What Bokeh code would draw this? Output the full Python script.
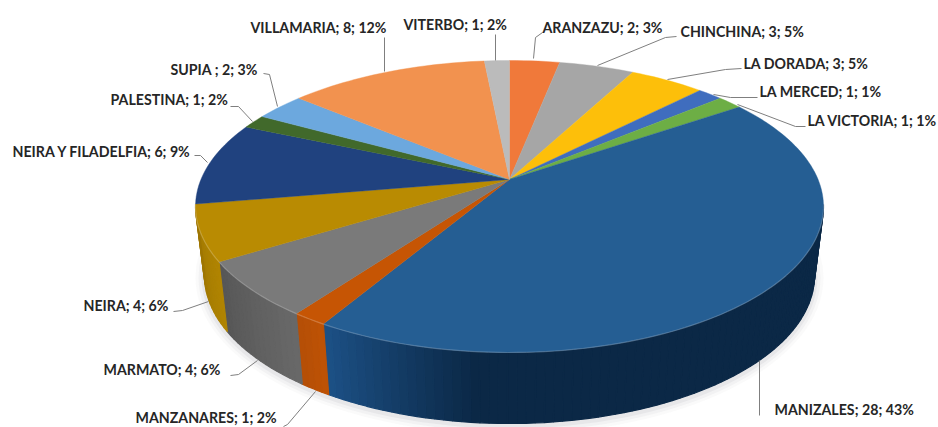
import math
from bokeh.plotting import figure
from bokeh.models import ColumnDataSource, Range1d
from bokeh.core.properties import value
from bokeh.embed import file_html
from bokeh.resources import INLINE

# ---- data (clockwise from the top of the pie)
categories = ["ARANZAZU", "CHINCHINA", "LA DORADA", "LA MERCED", "LA VICTORIA", "MANIZALES",
              "MANZANARES", "MARMATO", "NEIRA", "NEIRA Y FILADELFIA", "PALESTINA", "SUPIA ",
              "VILLAMARIA", "VITERBO"]
counts = [2, 3, 3, 1, 1, 28, 1, 4, 4, 6, 1, 2, 8, 1]
percents = [3, 5, 5, 1, 1, 43, 2, 6, 6, 9, 2, 3, 12, 2]
top_colors = ["#F0793A", "#A6A6A6", "#FDBF0A", "#3F6DBE", "#6DAE45", "#255E93", "#C65504",
              "#7A7A7A", "#B98B02", "#20427F", "#41692B", "#6CA8DE", "#F2924F", "#BBBBBB"]
side_start = ["#C0602A", "#858585", "#C99A05", "#30558F", "#558535", "#1D5288", "#BD5205",
              "#686868", "#B08402", "#183260", "#304F20", "#5585B0", "#C27540", "#959595"]
side_end = ["#C0602A", "#858585", "#C99A05", "#30558F", "#558535", "#0B2846", "#B44E06",
            "#565656", "#9C7402", "#183260", "#304F20", "#5585B0", "#C27540", "#959595"]

# ---- layout: positions of the labels and their leaders, in page pixels
label_pos = [(542, 27), (680, 31), (743, 63), (759, 91), (807, 120), (774, 409), (135, 417),
             (103, 369), (83, 305), (12, 151), (110, 99), (170, 69), (250, 27), (403, 24)]
leaders = [[(542, 32), (535, 37), (533, 58)], [(676, 36), (665, 37), (597, 65)],
           [(741, 68), (725, 69), (667, 79)], [(757, 97), (730, 97), (713, 94)],
           [(805, 126), (795, 126), (737, 104)], [(759, 415), (759, 360)],
           [(283, 426), (287, 424), (315, 391)], [(230, 375), (238, 374), (257, 360)],
           [(173, 311), (182, 310), (208, 301)], [(194, 155), (200, 155), (207, 162)],
           [(230, 106), (238, 106), (252, 121)], [(263, 73), (269, 74), (277, 106)],
           [(384, 37), (384, 71)], [(495, 34), (495, 60)]]

CX, CY, RX, RY = 509.0, 206.0, 314.0, 146.0        # rim of the top face
BX, BY, BRX, BRY = 509.0, 275.0, 305.0, 148.0      # rim of the base
C = 0.185                                           # perspective shift of the pie's centre
total = sum(counts)


def disc(theta):
    sx, sy = math.sin(theta), math.cos(theta)
    d = 1 + C * sy
    return sx * math.sqrt(1 - C * C) / d, (sy + C) / d


def top(u, v):
    return CX + RX * u, CY - RY * v


def base(u, v):
    return BX + BRX * u, BY - BRY * v


def mix(a, b, t):
    ca = [int(a[i:i + 2], 16) for i in (1, 3, 5)]
    cb = [int(b[i:i + 2], 16) for i in (1, 3, 5)]
    return "#%02x%02x%02x" % tuple(round(x + (y - x) * t) for x, y in zip(ca, cb))


# ---- slices
top_x, top_y, top_c = [], [], []
side_x, side_y, side_c = [], [], []
rim_x, rim_y = [], []
acc = 0
for i, n in enumerate(counts):
    t0 = acc / total * 2 * math.pi
    acc += n
    t1 = acc / total * 2 * math.pi
    steps = max(4, int((t1 - t0) * 40))
    ang = [t0 + (t1 - t0) * k / steps for k in range(steps + 1)]
    pts = [disc(a) for a in ang]
    ax, ay = top(0, C)
    top_x.append([ax] + [top(*q)[0] for q in pts])
    top_y.append([ay] + [top(*q)[1] for q in pts])
    top_c.append(top_colors[i])
    for k in range(steps):
        p0, p1 = pts[k], pts[k + 1]
        if p0[1] > 0.005 and p1[1] > 0.005:
            continue
        a0, a1, b1, b0 = top(*p0), top(*p1), base(*p1), base(*p0)
        side_x.append([a0[0], a1[0], b1[0], b0[0]])
        side_y.append([a0[1], a1[1], b1[1], b0[1]])
        side_c.append(mix(side_start[i], side_end[i], k / steps if i != 5
                          else min(1, 6 * (1 - k / steps))))
        rim_x.append([a0[0], a1[0]])
        rim_y.append([a0[1], a1[1]])

texts = [f"{c}; {n}; {v}%" for c, n, v in zip(categories, counts, percents)]

p = figure(width=938, height=427, output_backend="svg", toolbar_location=None,
           x_range=Range1d(0, 938), y_range=Range1d(427, 0), min_border=0,
           outline_line_color=None, background_fill_color="white", border_fill_color=None)
p.axis.visible = False
p.grid.visible = False

# soft shadow round the base
for grow, a in [(9, 0.035), (6, 0.05), (3, 0.07)]:
    p.ellipse(x=[BX], y=[BY + 2], width=[2 * (BRX + grow)], height=[2 * (BRY + grow)],
              fill_color="#6a6a70", fill_alpha=a, line_color=None)

p.patches(side_x, side_y, fill_color=side_c, line_color=side_c, line_width=1.2)
p.patches(top_x, top_y, fill_color=top_c, line_color=top_c, line_width=0.4)
p.multi_line(rim_x, rim_y, line_color="white", line_alpha=0.22, line_width=1.2)

p.multi_line([[q[0] for q in l] for l in leaders], [[q[1] for q in l] for l in leaders],
             line_color="#7f7f7f", line_width=1)
src = ColumnDataSource(dict(x=[q[0] for q in label_pos], y=[q[1] for q in label_pos], t=texts))
p.text("x", "y", text="t", source=src, text_font=value("Lato"), text_font_style="bold",
       text_font_size="14.2px", text_color="#262626", text_align="left", text_baseline="middle")

open("out.html", "w").write(file_html(p, INLINE))
